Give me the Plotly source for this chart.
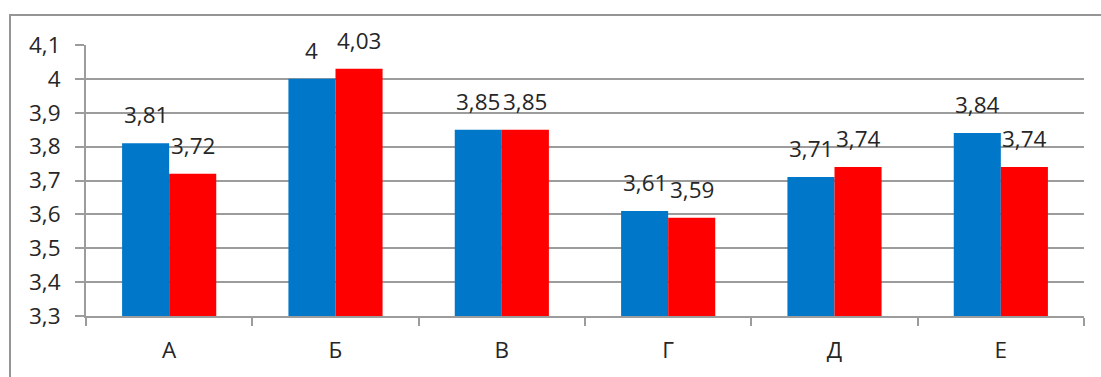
import plotly.graph_objects as go

# Categories and the two series (average scores)
categories = ["А", "Б", "В", "Г", "Д", "Е"]
series_blue = [3.81, 4.00, 3.85, 3.61, 3.71, 3.84]
series_red = [3.72, 4.03, 3.85, 3.59, 3.74, 3.74]

# Y axis ticks and their labels (decimal comma)
y_ticks = [3.3, 3.4, 3.5, 3.6, 3.7, 3.8, 3.9, 4.0, 4.1]
y_tick_labels = ["3,3", "3,4", "3,5", "3,6", "3,7", "3,8", "3,9", "4", "4,1"]

BLUE = "#0077C8"
RED = "#FF0000"
GRID = "#9c9c9c"
TEXT = "#262626"
FONT = "Open Sans"
FSIZE = 22.5


def fmt(v):
    return f"{v:g}".replace(".", ",")


fig = go.Figure()
fig.add_trace(go.Bar(x=categories, y=series_blue, marker=dict(color=BLUE, line=dict(width=0)),
                     base=0, hoverinfo="skip"))
fig.add_trace(go.Bar(x=categories, y=series_red, marker=dict(color=RED, line=dict(width=0)),
                     base=0, hoverinfo="skip"))

# Value labels centred above each bar
plot_w = 1101 - 86 - 17
cat_w = plot_w / len(categories)
bargap = 0.434
bar_w = cat_w * (1 - bargap) / 2
annotations = []
for vals, shift in ((series_blue, -bar_w / 2), (series_red, bar_w / 2)):
    for c, v in zip(categories, vals):
        annotations.append(dict(
            x=c, y=v, xref="x", yref="y", text=fmt(v), showarrow=False,
            xanchor="center", yanchor="bottom", xshift=shift, yshift=11,
            font=dict(family=FONT, size=FSIZE, color=TEXT),
        ))

# Outer chart frame
shapes = [dict(type="rect", xref="paper", yref="paper",
               x0=(10 - 86) / plot_w, x1=1.2, y0=-0.6, y1=1 + (45 - 15) / 271,
               line=dict(color="#959595", width=2), fillcolor="rgba(0,0,0,0)", layer="below")]

fig.update_layout(
    width=1101, height=377,
    margin=dict(l=86, r=17, t=45, b=61),
    paper_bgcolor="white", plot_bgcolor="white",
    barmode="group", bargap=bargap, bargroupgap=0,
    showlegend=False,
    font=dict(family=FONT, size=FSIZE, color=TEXT),
    annotations=annotations,
    shapes=shapes,
)
fig.update_yaxes(
    range=[3.3, 4.1], tickvals=y_ticks, ticktext=y_tick_labels,
    showgrid=True, gridcolor=GRID, gridwidth=2,
    showline=True, linecolor=GRID, linewidth=2,
    ticks="outside", ticklen=9, tickwidth=2, tickcolor=GRID,
    ticklabelstandoff=10, zeroline=False,
    tickfont=dict(family=FONT, size=FSIZE, color=TEXT),
)
fig.update_xaxes(
    showline=True, linecolor=GRID, linewidth=2,
    ticks="outside", tickson="boundaries", ticklen=8, tickwidth=2, tickcolor=GRID,
    ticklabelstandoff=13,
    tickfont=dict(family=FONT, size=FSIZE, color=TEXT),
)

fig.write_html("out.html")
